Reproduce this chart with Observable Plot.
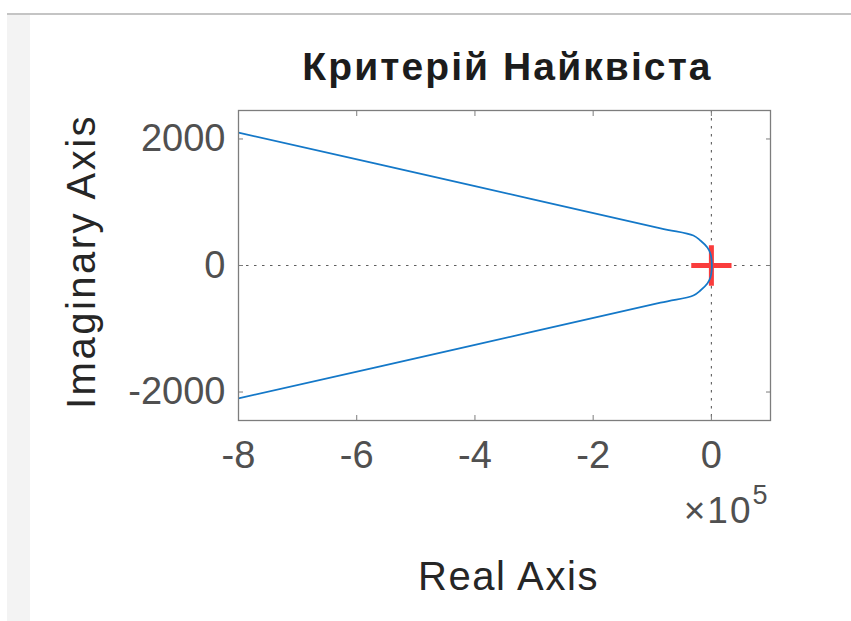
<!DOCTYPE html>
<html>
<head>
<meta charset="utf-8">
<script src="https://cdn.jsdelivr.net/npm/d3@7"></script>
<script src="https://cdn.jsdelivr.net/npm/@observablehq/plot@0.6"></script>
<style>
  html, body { margin: 0; padding: 0; background: #fff; }
  #wrap { position: relative; width: 851px; height: 621px; overflow: hidden; background: #fff; }
  #topline { position: absolute; left: 7px; top: 13px; width: 844px; height: 2px; background: #c4c4c4; }
  #strip { position: absolute; left: 7px; top: 15px; width: 23px; height: 606px; background: #f3f3f3; }
  #chart { position: absolute; left: 0; top: 0; }
</style>
</head>
<body>
<div id="wrap">
  <div id="topline"></div>
  <div id="strip"></div>
  <div id="chart"></div>
</div>
<script>
// Nyquist contour (real part, imaginary part)
const re = [-800000, -400000, -86000, -30500, -18600, -6800, -1700, 300, 800, 300, -1700, -6800, -18600, -30500, -86000, -400000, -800000];
const im = [2100, 1255, 588, 474, 395, 285, 190, 95, 0, -95, -190, -285, -395, -474, -588, -1255, -2100];

// critical point
const critRe = [-1];
const critIm = [0];

// axes
const xTicks = [-800000, -600000, -400000, -200000, 0];
const xTickLabels = ["-8", "-6", "-4", "-2", "0"];
const yTicks = [-2000, 0, 2000];
const yTickLabels = ["-2000", "0", "2000"];
const xDomain = [-800000, 100000];
const yDomain = [-2450, 2450];

const titleText = "Критерій Найквіста";
const xLabel = "Real Axis";
const yLabel = "Imaginary Axis";
const expBase = "×10";
const expPow = "5";

const curve = re.map((r, i) => ({re: r, im: im[i]}));
const crit = critRe.map((r, i) => ({re: r, im: critIm[i]}));

const frameColor = "#7d7d7d";
const tickColor = "#505050";
const font = "'Liberation Sans', Arial, Helvetica, sans-serif";

const plot = Plot.plot({
  width: 851,
  height: 621,
  marginLeft: 238,
  marginRight: 81,
  marginTop: 110,
  marginBottom: 201,
  style: {fontFamily: font, background: "transparent", overflow: "visible"},
  x: {domain: xDomain, axis: null},
  y: {domain: yDomain, axis: null},
  marks: [
    Plot.ruleX([0], {stroke: "#5e5e5e", strokeWidth: 1.1, strokeDasharray: "2.5,5.5"}),
    Plot.ruleY([0], {stroke: "#5e5e5e", strokeWidth: 1.1, strokeDasharray: "2.5,5.5"}),
    Plot.dot(crit, {x: "re", y: "im", symbol: "plus", r: 13, stroke: "#fa3c3c", strokeWidth: 5}),
    Plot.line(curve, {x: "re", y: "im", stroke: "#1478c8", strokeWidth: 1.7, curve: "catmull-rom", clip: true}),
    Plot.frame({stroke: frameColor, strokeWidth: 1.3}),
    Plot.axisX(xTicks, {anchor: "bottom", tickSize: -5, tickPadding: 26, stroke: frameColor, fill: tickColor,
      tickFormat: (d) => xTickLabels[xTicks.indexOf(d)], fontSize: 38, label: null}),
    Plot.axisX(xTicks, {anchor: "top", tickSize: -5, stroke: frameColor, tickFormat: () => "", label: null}),
    Plot.axisY(yTicks, {anchor: "left", tickSize: -5, tickPadding: 18, stroke: frameColor, fill: tickColor,
      tickFormat: (d) => yTickLabels[yTicks.indexOf(d)], fontSize: 38, label: null}),
    Plot.axisY(yTicks, {anchor: "right", tickSize: -5, stroke: frameColor, tickFormat: () => "", label: null}),
    Plot.text([titleText], {frameAnchor: "top", dy: -31, dx: 3, textAnchor: "middle", lineAnchor: "bottom", fontSize: 39, fontWeight: "bold", fill: "#1c1c1c"}),
    Plot.text([xLabel], {frameAnchor: "bottom", dy: 169, dx: 4, textAnchor: "middle", lineAnchor: "bottom", fontSize: 40, fill: "#262626"}),
    Plot.text([yLabel], {frameAnchor: "left", dx: -144, dy: -4, rotate: -90, textAnchor: "middle", lineAnchor: "bottom", fontSize: 40, fill: "#262626"}),
    Plot.text([expBase], {frameAnchor: "bottom-right", dx: -18, dy: 102, textAnchor: "end", lineAnchor: "bottom", fontSize: 37, fill: tickColor}),
    Plot.text([expPow], {frameAnchor: "bottom-right", dx: -18, dy: 83, textAnchor: "start", lineAnchor: "bottom", fontSize: 27, fill: tickColor})
  ]
});
document.getElementById("chart").appendChild(plot);
const spacing = {[titleText]: "2.1px", [xLabel]: "1.6px", [yLabel]: "2.5px", [expBase]: "2px"};
d3.select(plot).selectAll("text").each(function() {
  const s = spacing[this.textContent];
  if (s) this.setAttribute("letter-spacing", s);
});
</script>
</body>
</html>
